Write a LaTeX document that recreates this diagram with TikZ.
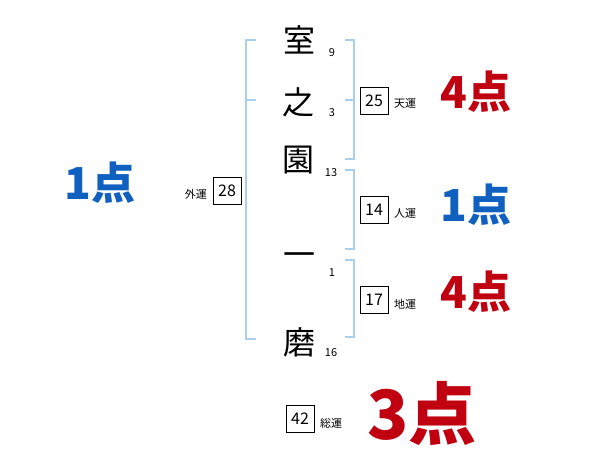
\documentclass[tikz,border=0pt]{standalone}
\usepackage{fontspec}
\setmainfont{Noto Sans CJK JP}
\newfontfamily\jp{Noto Sans CJK JP}
\definecolor{brk}{HTML}{A8D0EC}
\definecolor{ptred}{HTML}{C00010}
\definecolor{ptblue}{HTML}{1060C0}
\begin{document}
\begin{tikzpicture}[x=1pt,y=-1pt,
  kanji/.style={font=\jp\fontsize{32}{32}\selectfont, inner sep=0pt},
  stroke/.style={font=\jp\fontsize{11}{11}\selectfont, inner sep=0pt},
  numbox/.style={draw=black, line width=0.8pt, minimum width=28pt, minimum height=27pt, inner sep=0pt, font=\jp\fontsize{16}{16}\selectfont},
  unlabel/.style={font=\jp\fontsize{11}{11}\selectfont, inner sep=0pt},
  pts/.style={font=\jp\bfseries\fontsize{44}{44}\selectfont, inner sep=0pt},
  bracket/.style={draw=brk, line width=1.8pt}]
\useasboundingbox (0,0) rectangle (600,470);
% characters
\node[kanji] (c1) at (299,40) {室};
\node[kanji] (c2) at (298,102) {之};
\node[kanji] (c3) at (298,160) {園};
\node[kanji] (c4) at (299,260) {一};
\node[kanji] (c5) at (299,342) {磨};
\node[stroke] (s1) at (332,53) {9};
\node[stroke] (s2) at (332,113) {3};
\node[stroke] (s3) at (331,173) {13};
\node[stroke] (s4) at (332,273) {1};
\node[stroke] (s5) at (331,353) {16};
% brackets
\draw[bracket] (256,40) -- (246,40) -- (246,339) -- (256,339);
\draw[bracket] (246,100) -- (256,100);
\draw[bracket] (345,40) -- (354,40) -- (354,159) -- (345,159);
\draw[bracket] (345,100) -- (354,100);
\draw[bracket] (345,170) -- (354,170) -- (354,249) -- (345,249);
\draw[bracket] (345,260) -- (354,260) -- (354,337) -- (345,337);
% boxes
\node[numbox] (b25) at (374,100.5) {25};
\node[unlabel, anchor=west] (l25) at (394,103) {天運};
\node[numbox] (b14) at (374,209.5) {14};
\node[unlabel, anchor=west] (l14) at (394,213) {人運};
\node[numbox] (b17) at (374,300) {17};
\node[unlabel, anchor=west] (l17) at (394,304) {地運};
\node[numbox] (b28) at (227,191) {28};
\node[unlabel, anchor=east] (l28) at (207,194) {外運};
\node[numbox] (b42) at (300,419) {42};
\node[unlabel, anchor=west] (l42) at (320,423) {総運};
% points
\node[pts, text=ptred] (p1) at (476,92) {4点};
\node[pts, text=ptblue] (p2) at (476,205) {1点};
\node[pts, text=ptred] (p3) at (476,292) {4点};
\node[pts, text=ptblue] (p4) at (100,183) {1点};
\node[font=\jp\bfseries\fontsize{68}{68}\selectfont, inner sep=0pt, text=ptred] (p5) at (422,413) {3点};
\end{tikzpicture}
\end{document}
